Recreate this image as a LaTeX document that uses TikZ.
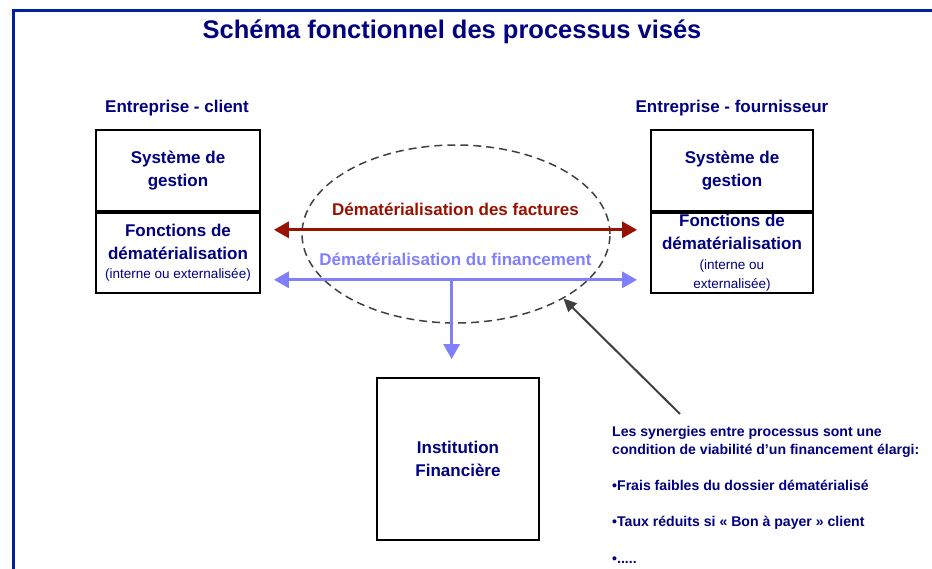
\documentclass[tikz,border=0pt]{standalone}
\usepackage{fontspec}
\setmainfont{Liberation Sans}
\usetikzlibrary{arrows.meta,shapes.geometric}
\definecolor{marine}{RGB}{0,0,128}
\definecolor{cadrebleu}{RGB}{0,32,160}
\definecolor{rougef}{RGB}{153,17,0}
\definecolor{bleuf}{RGB}{128,128,255}
\definecolor{grisf}{RGB}{64,64,64}
\tikzset{
    boite/.style={draw, line width=1.8pt, minimum width=164pt, inner sep=0pt, align=center,
        text=marine, font=\bfseries\fontsize{17}{23}\selectfont},
    entete/.style={text=marine, font=\bfseries\fontsize{17}{23}\selectfont},
    flux/.style={line width=3.3pt, {Triangle[length=15pt,width=16pt]}-{Triangle[length=15pt,width=16pt]}, shorten <=13pt, shorten >=13pt},
    etiquette/.style={font=\bfseries\fontsize{17}{23}\selectfont},
}
\begin{document}
\begin{tikzpicture}[x=1pt,y=-1pt]
    \useasboundingbox (0,0) rectangle (932,569);
    \draw[cadrebleu, line width=3pt] (13,569) -- (13,10.5) -- (932,10.5);
    \node[text=marine, font=\bfseries\fontsize{25.5}{28}\selectfont] (titre) at (452,32) {Schéma fonctionnel des processus visés};
    % entreprises
    \node[entete] (client) at (177,108) {Entreprise - client};
    \node[entete] (fourn) at (732,108) {Entreprise - fournisseur};
    \node[boite, minimum height=81pt] (gestionC) at (178,170.5) {Système de\\gestion};
    \node[boite, minimum height=80pt, anchor=north] (dematC) at (gestionC.south) {Fonctions de\\dématérialisation\\[-4pt]{\mdseries\fontsize{13.5}{19}\selectfont(interne ou externalisée)}};
    \node[boite, minimum width=162pt, minimum height=81pt] (gestionF) at (732,170.5) {Système de\\gestion};
    \node[boite, minimum width=162pt, minimum height=80pt, anchor=north] (dematF) at (gestionF.south) {Fonctions de\\dématérialisation\\[-3pt]{\mdseries\fontsize{13.5}{19}\selectfont(interne ou}\\[-4pt]{\mdseries\fontsize{13.5}{19}\selectfont externalisée)}};
    \node[boite, minimum width=162pt, minimum height=162pt] (inst) at (458,459) {Institution\\Financière};
    % flux
    \node[draw=grisf, dash pattern=on 8pt off 5pt, line width=1.5pt, ellipse, minimum width=308pt, minimum height=178pt] (ell) at (456,234) {};
    \draw[flux, rougef] ([yshift=23pt]dematC.east) -- ([yshift=23pt]dematF.west)
        node[midway, above=9pt, etiquette] {Dématérialisation des factures};
    \draw[flux, bleuf] ([yshift=-27pt]dematC.east) -- ([yshift=-27pt]dematF.west)
        node[midway, above=9pt, etiquette] {Dématérialisation du financement}
        coordinate[pos=0.49] (fourche);
    \draw[bleuf, line width=3pt, -{Triangle[length=15pt,width=16pt]}, shorten >=18pt] (fourche) -- (fourche |- inst.north);
    % synergies
    \coordinate (syn) at (680,414);
    \draw[grisf, line width=2pt, -{Triangle[length=13pt,width=12pt]}] (syn) -- (ell.-31);
    \node[anchor=north west, align=left, inner sep=0pt, text=marine, font=\bfseries\fontsize{14.1}{18}\selectfont] (note) at (612,426)
        {Les synergies entre processus sont une\\condition de viabilité d’un financement élargi:\\[18.5pt]•Frais faibles du dossier dématérialisé\\[18pt]•Taux réduits si « Bon à payer » client\\[18.5pt]•.....};
\end{tikzpicture}
\end{document}
